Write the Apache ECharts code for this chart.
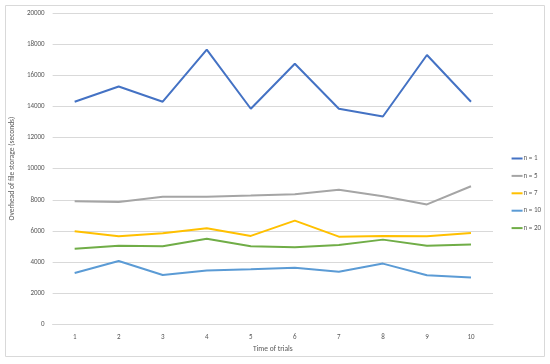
<!DOCTYPE html>
<html><head><meta charset="utf-8">
<script src="https://cdn.jsdelivr.net/npm/echarts@6/dist/echarts.min.js"></script>
<style>html,body{margin:0;padding:0;background:#fff}#c{width:550px;height:364px}</style>
</head><body><div id="c"></div>
<script>
const categories = ['1','2','3','4','5','6','7','8','9','10'];
const n1  = [14300, 15280, 14300, 17650, 13850, 16740, 13850, 13350, 17300, 14300];
const n5  = [7900, 7850, 8200, 8200, 8270, 8360, 8650, 8230, 7700, 8870];
const n7  = [5980, 5660, 5850, 6170, 5680, 6660, 5630, 5680, 5660, 5870];
const n10 = [3300, 4070, 3170, 3450, 3540, 3640, 3380, 3900, 3150, 3000];
const n20 = [4860, 5040, 5020, 5500, 5020, 4950, 5100, 5440, 5050, 5120];
const seriesNames = ['n = 1','n = 5','n = 7','n = 10','n = 20'];
const seriesData = [n1, n5, n7, n10, n20];
const colors = ['#4472C4','#A5A5A5','#FFC000','#5B9BD5','#70AD47'];
const font = 'Calibri, Carlito, "Liberation Sans", sans-serif';
const chart = echarts.init(document.getElementById('c'));
chart.setOption({
  animation: false,
  graphic: [{type:'rect', shape:{x:5.5,y:5.5,width:539,height:351}, style:{fill:'none', stroke:'#d9d9d9', lineWidth:1}, silent:true}],
  grid: {left:50, right:57, top:13, bottom:39.7},
  legend: {
    orient:'vertical', right:4, top:150, itemWidth:11, itemHeight:2, itemGap:10.4,
    icon:'rect',
    textStyle:{fontSize:7, color:'#595959', fontFamily:font, padding:[0,0,0,-4]},
    data: seriesNames
  },
  xAxis: {
    type:'category', data:categories, boundaryGap:true,
    name:'Time of trials', nameLocation:'middle', nameGap:20,
    nameTextStyle:{fontSize:7.5, color:'#595959', fontFamily:font},
    axisLine:{show:true, lineStyle:{color:'#d9d9d9'}}, axisTick:{show:false},
    axisLabel:{fontSize:7, color:'#595959', fontFamily:font, margin:9}
  },
  yAxis: {
    type:'value', min:0, max:20000, interval:2000,
    name:'Overhead of file storage (seconds)', nameLocation:'middle', nameGap:30,
    nameTextStyle:{fontSize:7.5, color:'#595959', fontFamily:font},
    axisLine:{show:false}, axisTick:{show:false},
    axisLabel:{fontSize:7, color:'#595959', fontFamily:font, margin:8, formatter: v => String(v)},
    splitLine:{lineStyle:{color:'#d9d9d9', width:1}}
  },
  series: seriesData.map((d,i)=>({
    name: seriesNames[i], type:'line', data:d, symbol:'none',
    lineStyle:{width:2, color:colors[i]}, itemStyle:{color:colors[i]}
  }))
});
</script></body></html>
